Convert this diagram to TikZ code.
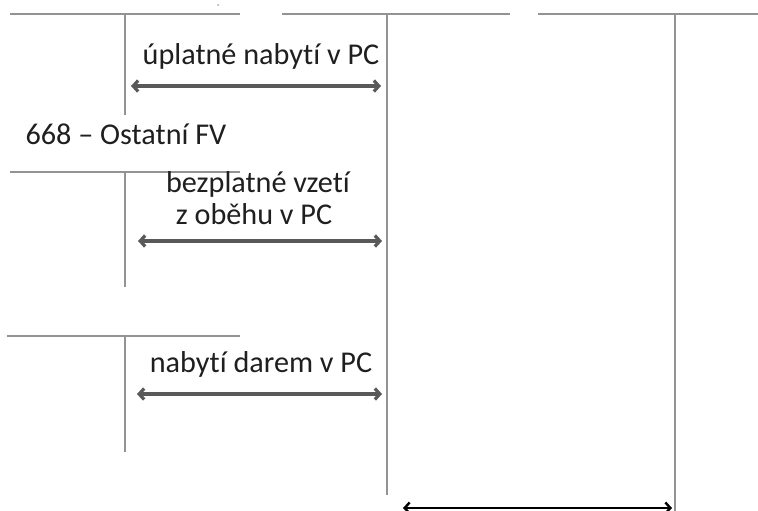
\documentclass[tikz,border=0pt]{standalone}
\usepackage{fontspec}
\setmainfont{Carlito}[Ligatures=NoCommon]
\usetikzlibrary{arrows.meta}

\begin{document}
\begin{tikzpicture}[x=1pt,y=-1pt,>={Straight Barb[length=5pt,width=11pt]},
	account/.style={draw=gray!85,line width=1.4pt},
	move/.style={<->,draw=black!65,line width=3.2pt},
	lbl/.style={font=\fontsize{30.2}{34}\selectfont,text=black!88,anchor=base,inner sep=0pt}]
	\useasboundingbox (0,0) rectangle (758,511);
	
	% T accounts, left column
	\coordinate (a1) at (125,14);
	\coordinate (a2) at (125,172);
	\coordinate (a3) at (125,336);
	\draw[account] (10,14) -- (240,14) (a1) -- (125,115);
	\draw[account] (10,172) -- (240,172) (a2) -- (125,287);
	\draw[account] (7,336) -- (240,336) (a3) -- (125,452);
	\fill[gray!70] (218,5) circle (1pt);
	
	% T accounts, right
	\coordinate (pc) at (387,14);
	\coordinate (pv) at (675,14);
	\draw[account] (282,14) -- (510,14) (pc) -- (387,495);
	\draw[account] (538,14) -- (758,14) (pv) -- (675,511);
	
	% labels
	\node[lbl] (upl) at (261,65) {úplatné nabytí v PC};
	\node[lbl] (ofv) at (126,144) {668 – Ostatní FV};
	\node[lbl] (bez) at (258,192) {bezplatné vzetí};
	\node[lbl] (obe) at (254,224) {z oběhu v PC};
	\node[lbl] (dar) at (261,372) {nabytí darem v PC};
	
	% movements
	\coordinate (m1a) at (131,86);  \coordinate (m1b) at (381,86);
	\coordinate (m2a) at (138,241); \coordinate (m2b) at (382,241);
	\coordinate (m3a) at (137,394); \coordinate (m3b) at (382,394);
	\coordinate (m4a) at (403,508); \coordinate (m4b) at (672,508);
	\draw[move] (m1a) -- (m1b);
	\draw[move] (m2a) -- (m2b);
	\draw[move] (m3a) -- (m3b);
	\draw[move,draw=black,line width=2.4pt] (m4a) -- (m4b);
\end{tikzpicture}
\end{document}
